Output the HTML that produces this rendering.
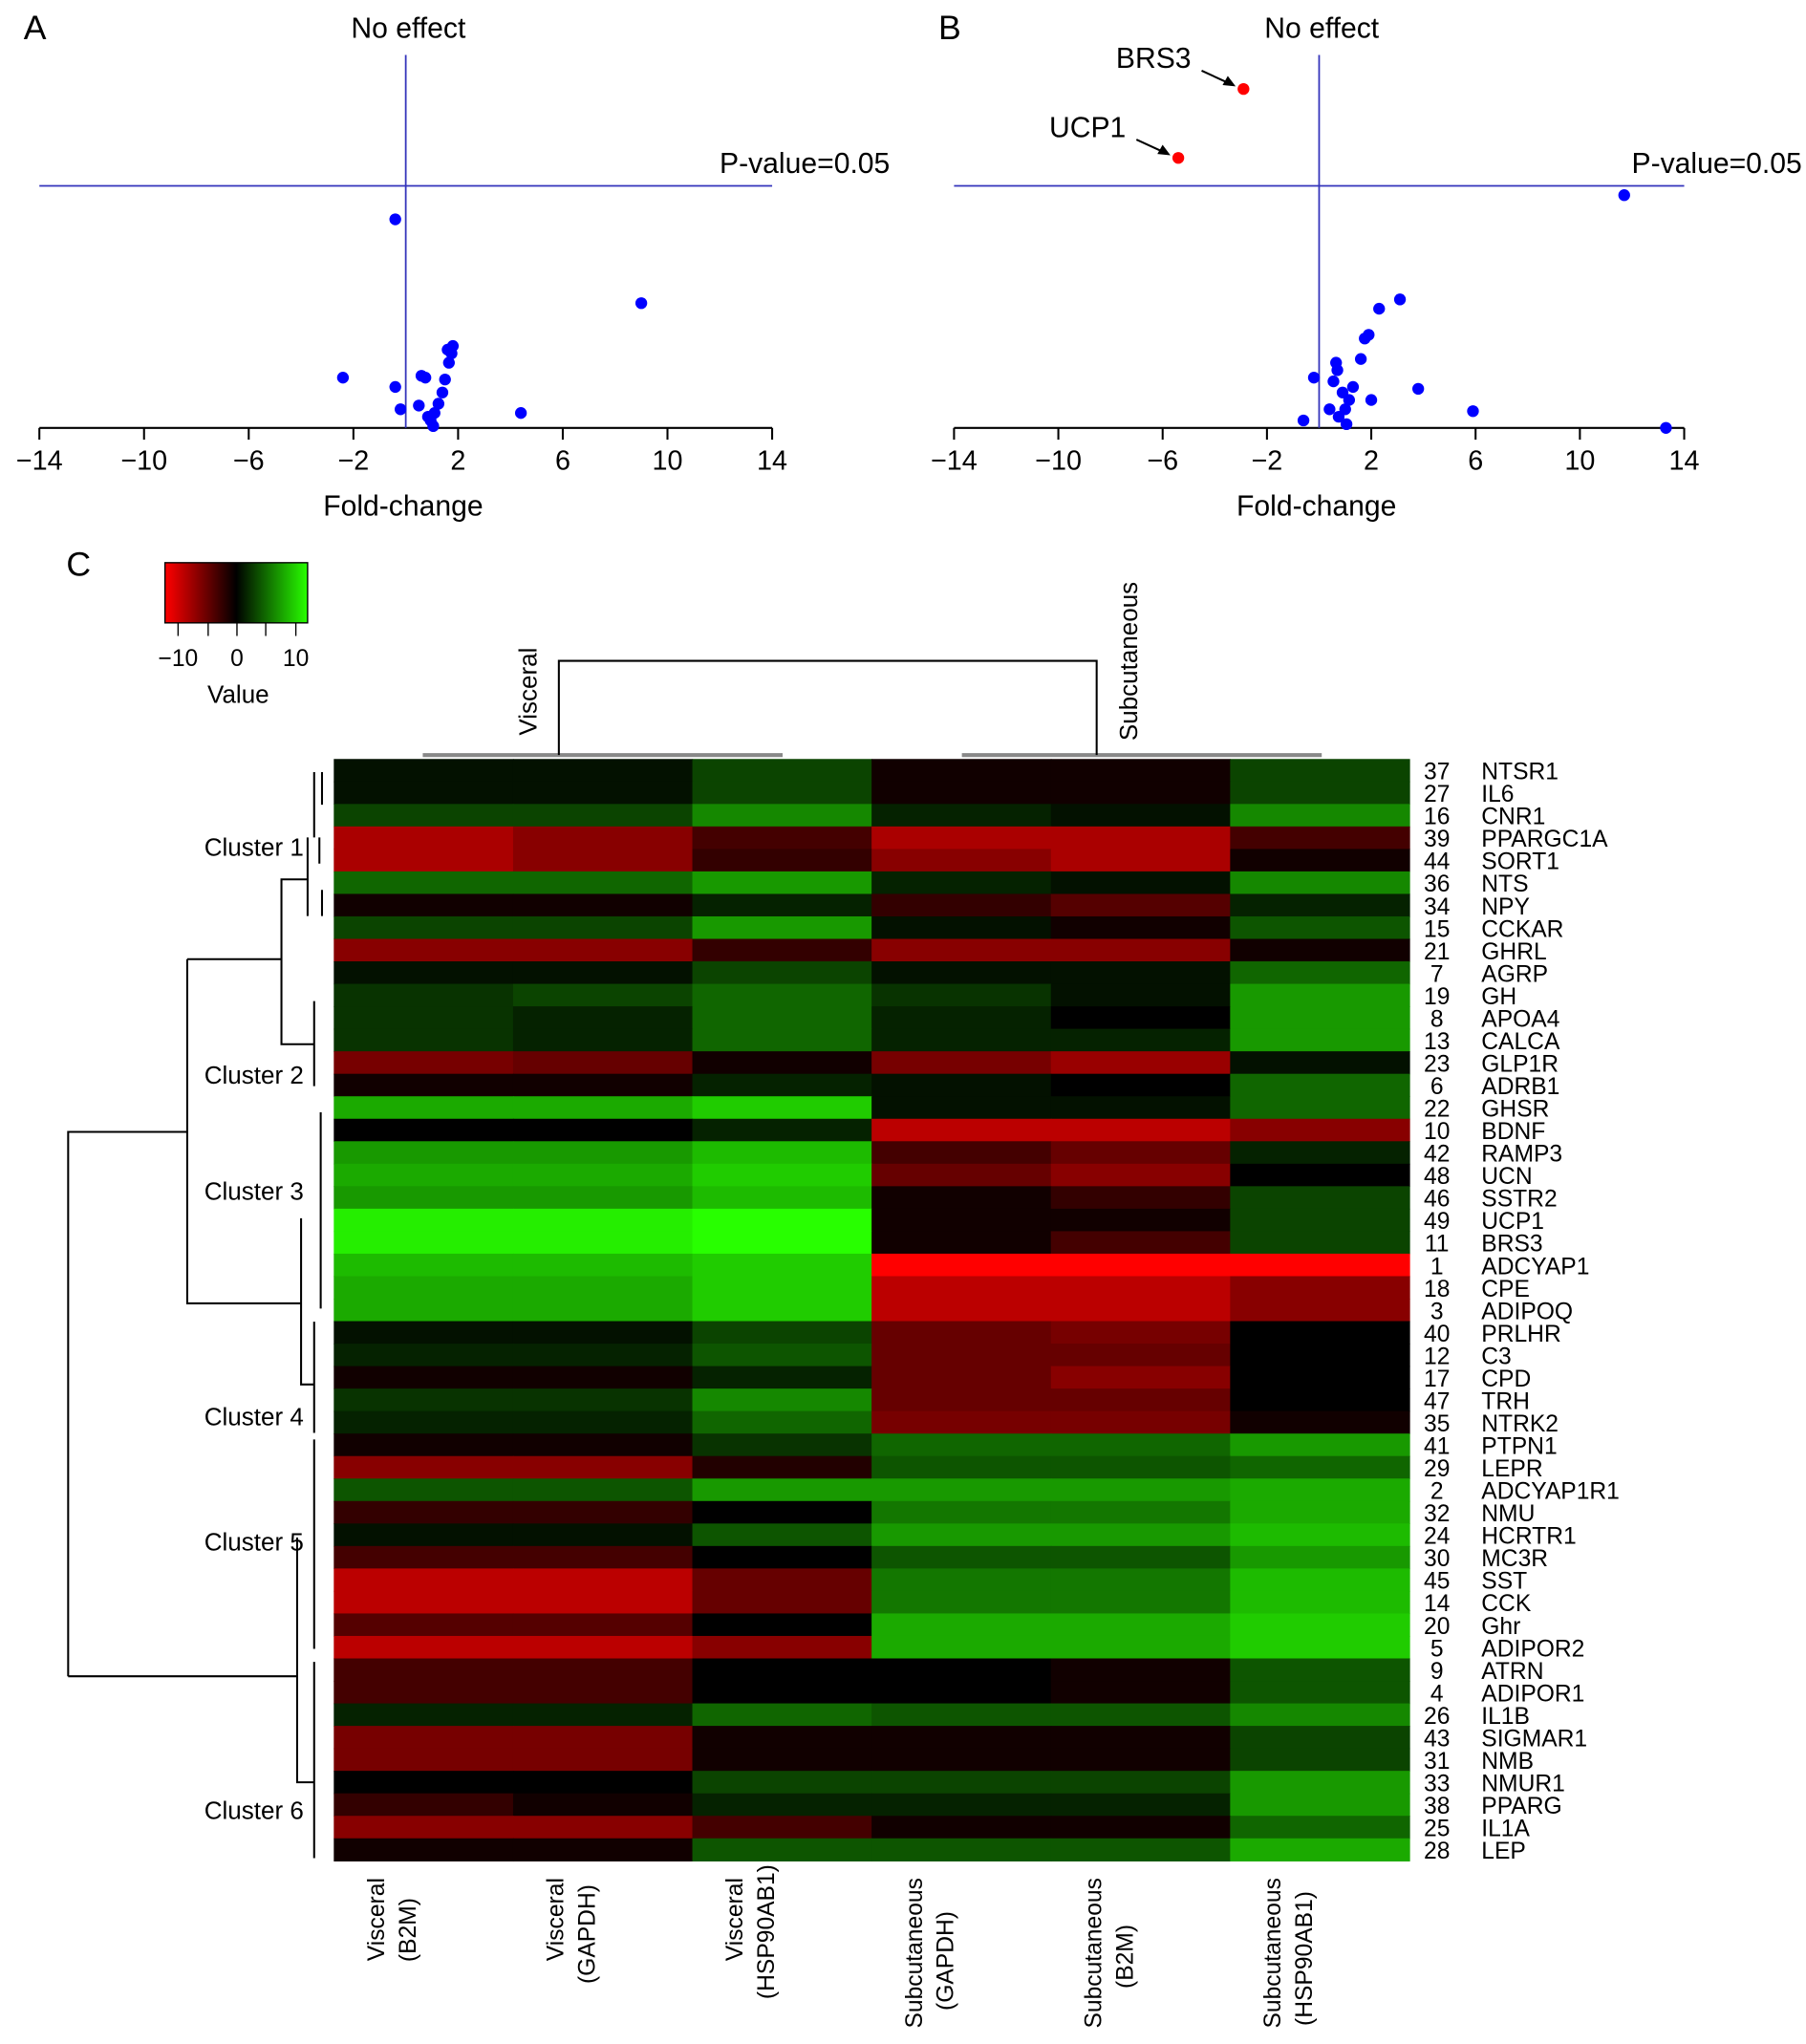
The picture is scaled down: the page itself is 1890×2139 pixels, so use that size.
<!DOCTYPE html>
<html><head><meta charset="utf-8"><style>
html,body{margin:0;padding:0;background:#fff;}
svg{display:block;font-family:"Liberation Sans",Arial,sans-serif;}
</style></head><body>
<svg id="fig" width="1890" height="2139" viewBox="0 0 1380 1562">
<defs><linearGradient id="cg" x1="0" x2="1" y1="0" y2="0">
<stop offset="0" stop-color="#ff0000"/><stop offset="0.5" stop-color="#000"/><stop offset="1" stop-color="#28ff00"/></linearGradient></defs>
<g id="volA"></g>
<g id="volB"></g>
<g id="heat"></g>
<g>
<text x="60" y="440" font-size="26" text-anchor="middle">C</text>
<rect x="126" y="430" width="109" height="46" fill="url(#cg)" stroke="#000"/>
<g stroke="#000"><line x1="136" y1="476" x2="136" y2="486"/><line x1="159" y1="476" x2="159" y2="486"/><line x1="181" y1="476" x2="181" y2="486"/><line x1="203" y1="476" x2="203" y2="486"/><line x1="226" y1="476" x2="226" y2="486"/></g>
<text x="136" y="509" font-size="18" text-anchor="middle">−10</text>
<text x="181" y="509" font-size="18" text-anchor="middle">0</text>
<text x="226" y="509" font-size="18" text-anchor="middle">10</text>
<text x="182" y="537" font-size="19" text-anchor="middle">Value</text>
</g>
<g fill="none">
<path d="M323 577H598 M735 577H1010" stroke="#888" stroke-width="3"/>
<path d="M427 577V505H838V577" stroke="#000" stroke-width="1.5"/>
<text transform="translate(410,562) rotate(-90)" font-size="19" fill="#000">Visceral</text>
<text transform="translate(869,566) rotate(-90)" font-size="19" fill="#000">Subcutaneous</text>
</g>
<g fill="none" stroke="#000" stroke-width="1.5">
<path d="M52 1281V865H143 M52 1281H227 M143 733V996H230 M143 733H215V672H235 M215 733V798H240 M230 931V1058H240 M227 1175V1362H240"/>
<path d="M235 640V700 M240 590V640 M240 765V830 M245 850V1000 M240 1010V1095 M240 1100V1260 M240 1270V1420 M246 590V615 M244 640V660 M246 680V700"/>
</g>
<g font-size="19" text-anchor="end">
<text x="232" y="654">Cluster 1</text><text x="232" y="828">Cluster 2</text><text x="232" y="917">Cluster 3</text>
<text x="232" y="1089">Cluster 4</text><text x="232" y="1185">Cluster 5</text><text x="232" y="1390">Cluster 6</text>
</g>
</svg>
<script>
const NS='http://www.w3.org/2000/svg';
function mk(p,tag,at){const e=document.createElementNS(NS,tag);for(const k in at)e.setAttribute(k,at[k]);p.appendChild(e);return e;}
// Volcano A data
const aFold=[-0.4,9.0,-2.4,-0.4,-0.2,4.4,0.6,0.75,1.6,1.75,1.65,1.5,1.4,1.25,1.1,0.95,0.85,0.5,1.05,1.8];
const aLogP=[1.12,0.67,0.27,0.22,0.10,0.08,0.28,0.27,0.42,0.40,0.35,0.26,0.19,0.13,0.08,0.04,0.06,0.12,0.01,0.44];
// Volcano B data
const bFold=[11.7,13.3,3.1,2.3,1.9,1.75,1.6,3.8,5.9,2.0,-0.2,-0.6,0.65,0.7,0.55,0.9,1.15,1.0,0.75,1.05,0.4,1.3];
const bLogP=[1.25,0,0.69,0.64,0.50,0.48,0.37,0.21,0.09,0.15,0.27,0.04,0.35,0.31,0.25,0.19,0.15,0.10,0.06,0.02,0.10,0.22];
const bHiName=['BRS3','UCP1'];
const bHiFold=[-2.9,-5.4];
const bHiLogP=[1.82,1.45];
const xTicks=[-14,-10,-6,-2,2,6,10,14];
const sigLogP=1.3;
function volcano(g,x0,x1,letter,fold,logp,hiN,hiF,hiP){
  const base=327,ppu=142.3;
  const sx=v=>x0+(v+14)/28*(x1-x0), sy=v=>base-v*ppu;
  const t=mk(g,'text',{x:x0-12,y:30,'font-size':26});t.textContent=letter;
  
  
  mk(g,'line',{x1:x0,x2:x1,y1:base,y2:base,stroke:'#000','stroke-width':1.5});
  xTicks.forEach(v=>{mk(g,'line',{x1:sx(v),x2:sx(v),y1:base,y2:base+9,stroke:'#000','stroke-width':1.5});
    const l=mk(g,'text',{x:sx(v),y:base+32,'font-size':21,'text-anchor':'middle'});l.textContent=(v<0?'−'+(-v):v);
    
    });
  const xt=mk(g,'text',{x:sx(0)-2,y:394,'font-size':22,'text-anchor':'middle'});xt.textContent='Fold-change';
  
  
  mk(g,'line',{x1:sx(0),x2:sx(0),y1:42,y2:base,stroke:'#3333bb','stroke-width':1.3});
  mk(g,'line',{x1:x0,x2:x1,y1:sy(sigLogP),y2:sy(sigLogP),stroke:'#3333bb','stroke-width':1.3});
  const ne=mk(g,'text',{x:sx(0)+2,y:29,'font-size':22,'text-anchor':'middle'});ne.textContent='No effect';
  
  
  const pl=mk(g,'text',{x:x1+90,y:sy(sigLogP)-10,'font-size':22,'text-anchor':'end'});pl.textContent='P-value=0.05';
  
  
  fold.forEach((f,i)=>{const c=mk(g,'circle',{cx:sx(f),cy:sy(logp[i]),r:4.5,fill:'#0000ff'});
    
    });
  hiN.forEach((n,i)=>{const cx=sx(hiF[i]),cy=sy(hiP[i]);
    const c=mk(g,'circle',{cx:cx,cy:cy,r:4.5,fill:'#ff0000'});
    
    
    mk(g,'line',{x1:cx-32,y1:cy-14,x2:cx-8,y2:cy-3,stroke:'#000','stroke-width':1.5});
    mk(g,'path',{d:`M${cx-6} ${cy-2} l-10 -1 l4 -7z`,fill:'#000'});
    const l=mk(g,'text',{x:cx-40,y:cy-16,'font-size':22,'text-anchor':'end'});l.textContent=n;
    
    });
}
volcano(document.getElementById('volA'),30,590,'A',aFold,aLogP,[],[],[]);
volcano(document.getElementById('volB'),729,1287,'B',bFold,bLogP,bHiName,bHiFold,bHiLogP);
// Heatmap data
const genes=['NTSR1','IL6','CNR1','PPARGC1A','SORT1','NTS','NPY','CCKAR','GHRL','AGRP','GH','APOA4','CALCA','GLP1R','ADRB1','GHSR','BDNF','RAMP3','UCN','SSTR2','UCP1','BRS3','ADCYAP1','CPE','ADIPOQ','PRLHR','C3','CPD','TRH','NTRK2','PTPN1','LEPR','ADCYAP1R1','NMU','HCRTR1','MC3R','SST','CCK','Ghr','ADIPOR2','ATRN','ADIPOR1','IL1B','SIGMAR1','NMB','NMUR1','PPARG','IL1A','LEP'];
const geneIds=[37,27,16,39,44,36,34,15,21,7,19,8,13,23,6,22,10,42,48,46,49,11,1,18,3,40,12,17,47,35,41,29,2,32,24,30,45,14,20,5,9,4,26,43,31,33,38,25,28];
const colLabels=[['Visceral','(B2M)'],['Visceral','(GAPDH)'],['Visceral','(HSP90AB1)'],['Subcutaneous','(GAPDH)'],['Subcutaneous','(B2M)'],['Subcutaneous','(HSP90AB1)']];
const values=[
[1,1,4,-1,-1,4],[1,1,4,-1,-1,4],[4,4,8,2,1,8],[-10,-8,-4,-10,-10,-4],[-10,-8,-3,-8,-10,-1],
[6,6,9,2,1,8],[-1,-1,2,-3,-5,2],[4,4,9,1,-1,5],[-8,-8,-3,-8,-8,-1],[1,1,4,1,1,6],
[3,4,6,3,1,9],[3,2,6,2,0,9],[3,2,6,2,2,9],[-7,-6,-1,-7,-9,1],[-1,-1,2,1,0,6],
[10,10,12,1,1,6],[0,0,2,-11,-11,-8],[9,9,11,-4,-6,2],[10,10,12,-6,-8,0],[9,9,11,-1,-3,4],
[14,14,15,-1,-1,4],[14,14,15,-1,-4,4],[11,11,12,-15,-15,-15],[10,10,12,-11,-11,-8],[10,10,12,-11,-11,-8],
[1,1,4,-6,-7,0],[2,2,5,-6,-6,0],[-1,-1,2,-6,-8,0],[3,3,8,-6,-6,0],[2,2,6,-7,-7,-1],
[-1,-1,3,6,6,9],[-8,-8,-2,5,5,6],[5,5,9,9,9,10],[-3,-3,0,7,7,10],[1,1,5,9,9,11],
[-4,-4,0,5,5,9],[-11,-11,-6,7,7,11],[-11,-11,-6,7,7,11],[-5,-5,0,10,10,12],[-11,-11,-8,10,10,12],
[-4,-4,0,0,-1,5],[-4,-4,0,0,-1,5],[2,2,6,5,5,8],[-7,-7,-1,-1,-1,4],[-7,-7,-1,-1,-1,4],
[0,0,4,4,4,9],[-3,-1,2,2,2,9],[-8,-8,-4,-1,-1,6],[-1,-1,5,5,5,10]];
function col(v){const a=Math.min(Math.abs(v),15)/15;return v<0?`rgb(${Math.round(255*a)},0,0)`:`rgb(${Math.round(40*a)},${Math.round(255*a)},0)`;}
(function(){const g=document.getElementById('heat');const X0=255,Y0=580,W=137,H=842/genes.length;
 values.forEach((row,r)=>{row.forEach((v,c)=>{const e=mk(g,'rect',{x:X0+c*W,y:Y0+r*H,width:W+0.5,height:H+0.5,fill:col(v)});
   
   });
   const cy=Y0+(r+0.5)*H+7;
   const n=mk(g,'text',{x:1098,y:cy,'font-size':18,'text-anchor':'middle'});n.textContent=geneIds[r];
   
   
   const t=mk(g,'text',{x:1132,y:cy,'font-size':18});t.textContent=genes[r];
   
   });
 colLabels.forEach((l,c)=>{const cx=X0+c*W+W/2;
   [0,1].forEach(k=>{const t=mk(g,'text',{transform:`translate(${cx-30+k*24},1435) rotate(-90)`,'font-size':18,'text-anchor':k?'middle':'end'});
     if(k){t.setAttribute('transform',`translate(${cx-6},${1435+ (l[0].length*10.5)/2 }) rotate(-90)`);t.setAttribute('text-anchor','end');
       t.setAttribute('transform',`translate(${cx-6},1435) rotate(-90)`);
       t.setAttribute('x',-(l[0].length*10.2-l[1].length*10.2)/2);}
     t.textContent=l[k];
     
     });});
})();
</script>
</body></html>
